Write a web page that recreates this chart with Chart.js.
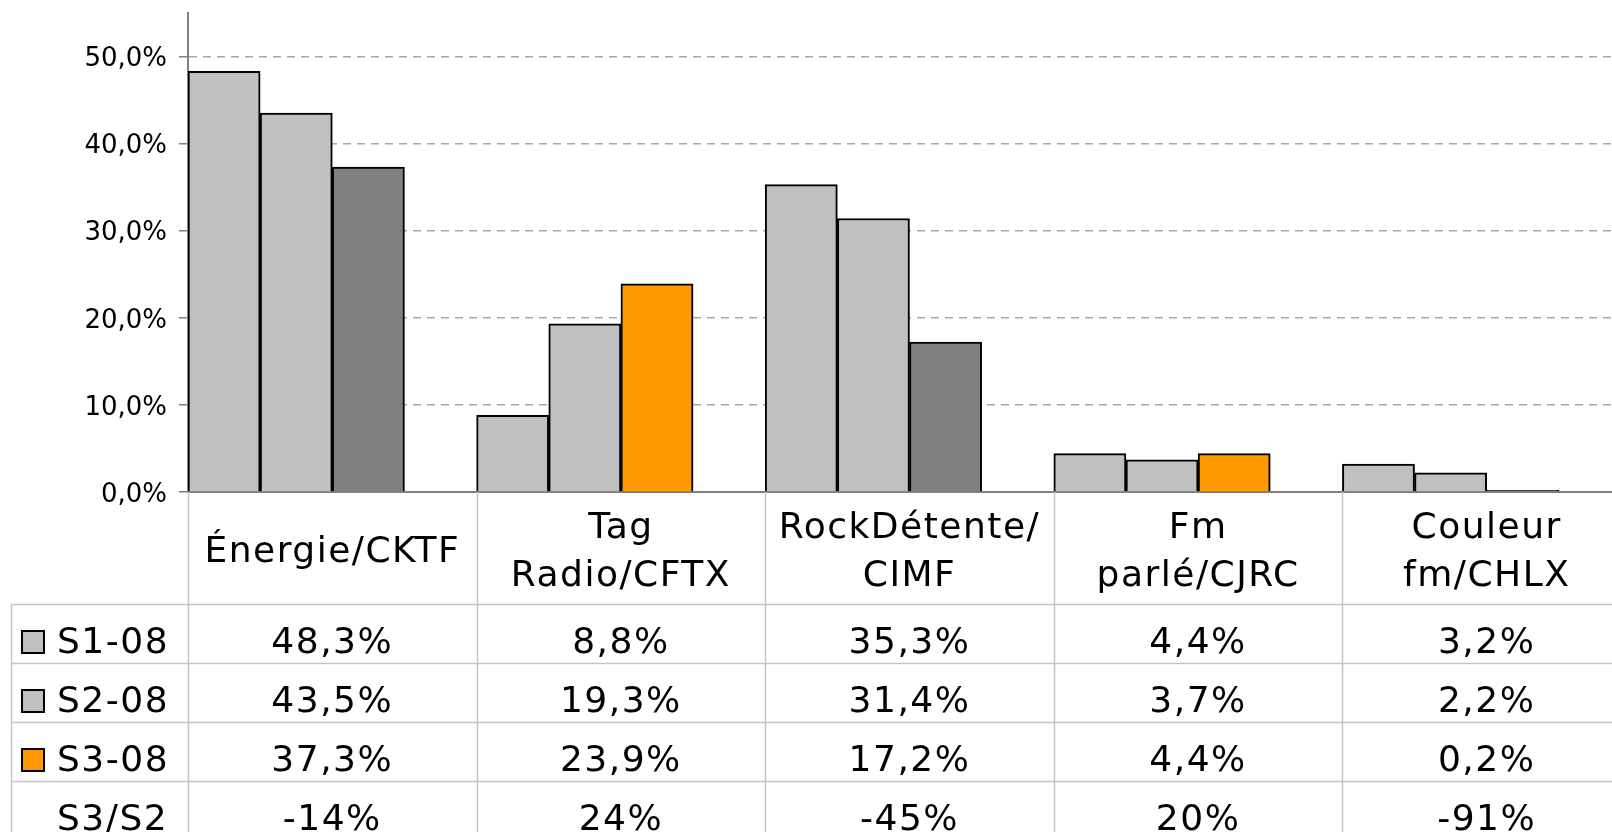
<!DOCTYPE html>
<html>
<head>
<meta charset="utf-8">
<script src="https://cdn.jsdelivr.net/npm/chart.js@4"></script>
<style>
  html, body { margin: 0; padding: 0; background: #fff; overflow: hidden; }
  #wrap { width: 1640px; height: 832px; }
</style>
</head>
<body>
<div id="wrap"><canvas id="chart" width="1640" height="832"></canvas></div>
<script>
// categories (multi-line labels as in the data table header)
const categories = [['Énergie/CKTF'], ['Tag', 'Radio/CFTX'], ['RockDétente/', 'CIMF'], ['Fm', 'parlé/CJRC'], ['Couleur', 'fm/CHLX']];
const seriesNames = ['S1-08', 'S2-08', 'S3-08'];
const s1 = [48.3, 8.8, 35.3, 4.4, 3.2];
const s2 = [43.5, 19.3, 31.4, 3.7, 2.2];
const s3 = [37.3, 23.9, 17.2, 4.4, 0.2];
const ratioLabel = 'S3/S2';
const ratio = ['-14%', '24%', '-45%', '20%', '-91%'];
const yTicks = [0, 10, 20, 30, 40, 50];

const lightGray = '#C0C0C0';
const darkGray = '#808080';
const orange = '#FF9900';
const s3Colors = [darkGray, orange, darkGray, orange, darkGray];
const legendColors = [lightGray, lightGray, orange];

const FONT = '"DejaVu Sans", Verdana, sans-serif';

function fmtPct(v) {
  return v.toFixed(1).replace('.', ',') + '%';
}

// Draws the data table under the x axis, using the x scale for the columns
const dataTable = {
  id: 'dataTable',
  afterDraw(chart) {
    const ctx = chart.ctx;
    const xs = chart.scales.x;
    const top = chart.chartArea.bottom;
    const n = categories.length;
    const colW = (xs.right - xs.left) / n;
    const headerBottom = top + 112;
    const rowH = 59;
    const tableLeft = 11;
    const rows = [s1, s2, s3];

    ctx.save();
    ctx.strokeStyle = '#c4c4c4';
    ctx.lineWidth = 1.5;

    // column lines
    for (let i = 0; i <= n; i++) {
      const cx = Math.round(xs.left + i * colW) + 0.5;
      ctx.beginPath();
      ctx.moveTo(cx, top);
      ctx.lineTo(cx, chart.height);
      ctx.stroke();
    }
    // left border of legend column
    ctx.beginPath();
    ctx.moveTo(tableLeft + 0.5, headerBottom);
    ctx.lineTo(tableLeft + 0.5, chart.height);
    ctx.stroke();
    // row lines
    for (let r = 0; r <= 3; r++) {
      const y = Math.round(headerBottom + r * rowH) + 0.5;
      ctx.beginPath();
      ctx.moveTo(tableLeft, y);
      ctx.lineTo(chart.width, y);
      ctx.stroke();
    }

    ctx.fillStyle = '#000';
    ctx.font = '36px ' + FONT;
    ctx.letterSpacing = '1.5px';
    ctx.textAlign = 'center';
    ctx.textBaseline = 'alphabetic';

    // header: category names
    categories.forEach((lines, i) => {
      const cx = xs.getPixelForValue(i);
      const mid = top + 70;
      const start = mid - (lines.length - 1) * 24;
      lines.forEach((t, k) => ctx.fillText(t, cx, start + k * 48));
    });

    // data rows
    rows.forEach((vals, r) => {
      const base = headerBottom + r * rowH + 49;
      vals.forEach((v, i) => ctx.fillText(fmtPct(v), xs.getPixelForValue(i), base));
    });
    const ratioBase = headerBottom + 3 * rowH + 49;
    ratio.forEach((t, i) => ctx.fillText(t, xs.getPixelForValue(i), ratioBase));

    // legend column
    ctx.textAlign = 'left';
    seriesNames.forEach((name, r) => {
      const base = headerBottom + r * rowH + 49;
      ctx.fillStyle = legendColors[r];
      ctx.fillRect(22, base - 22, 22, 22);
      ctx.strokeStyle = '#000';
      ctx.lineWidth = 2;
      ctx.strokeRect(22, base - 22, 22, 22);
      ctx.fillStyle = '#000';
      ctx.fillText(name, 57, base);
    });
    ctx.fillText(ratioLabel, 57, ratioBase);
    ctx.restore();
  }
};

new Chart(document.getElementById('chart'), {
  type: 'bar',
  data: {
    labels: categories,
    datasets: [
      { label: seriesNames[0], data: s1, backgroundColor: lightGray },
      { label: seriesNames[1], data: s2, backgroundColor: lightGray },
      { label: seriesNames[2], data: s3, backgroundColor: s3Colors },
      // empty slot: keeps the gap on the right side of each group
      { label: '', data: categories.map(() => null), backgroundColor: 'rgba(0,0,0,0)' }
    ]
  },
  options: {
    responsive: false,
    animation: false,
    layout: { padding: { top: 13, right: 9, left: 0, bottom: 0 } },
    datasets: {
      bar: {
        borderColor: '#000',
        borderWidth: 2,
        categoryPercentage: 1,
        barPercentage: 1
      }
    },
    plugins: {
      legend: { display: false },
      tooltip: { enabled: false }
    },
    scales: {
      x: {
        grid: { display: false },
        ticks: { display: false },
        border: { color: darkGray, width: 2 },
        afterFit(scale) { scale.height = 340; }
      },
      y: {
        min: 0,
        max: 55,
        afterBuildTicks(scale) { scale.ticks = yTicks.map(v => ({ value: v })); },
        afterFit(scale) {
          scale.width = 188;
          scale.paddingTop = 0;
          scale.paddingBottom = 0;
        },
        grid: {
          color: '#a8a8a8',
          lineWidth: 1.5,
          tickLength: 9,
          tickColor: darkGray,
          tickBorderDash: []
        },
        border: { color: darkGray, width: 2, dash: [8, 6] },
        ticks: {
          padding: 12,
          labelOffset: 3,
          color: '#000',
          font: { family: FONT, size: 26 },
          callback: v => fmtPct(v)
        }
      }
    }
  },
  plugins: [dataTable]
});
</script>
</body>
</html>
